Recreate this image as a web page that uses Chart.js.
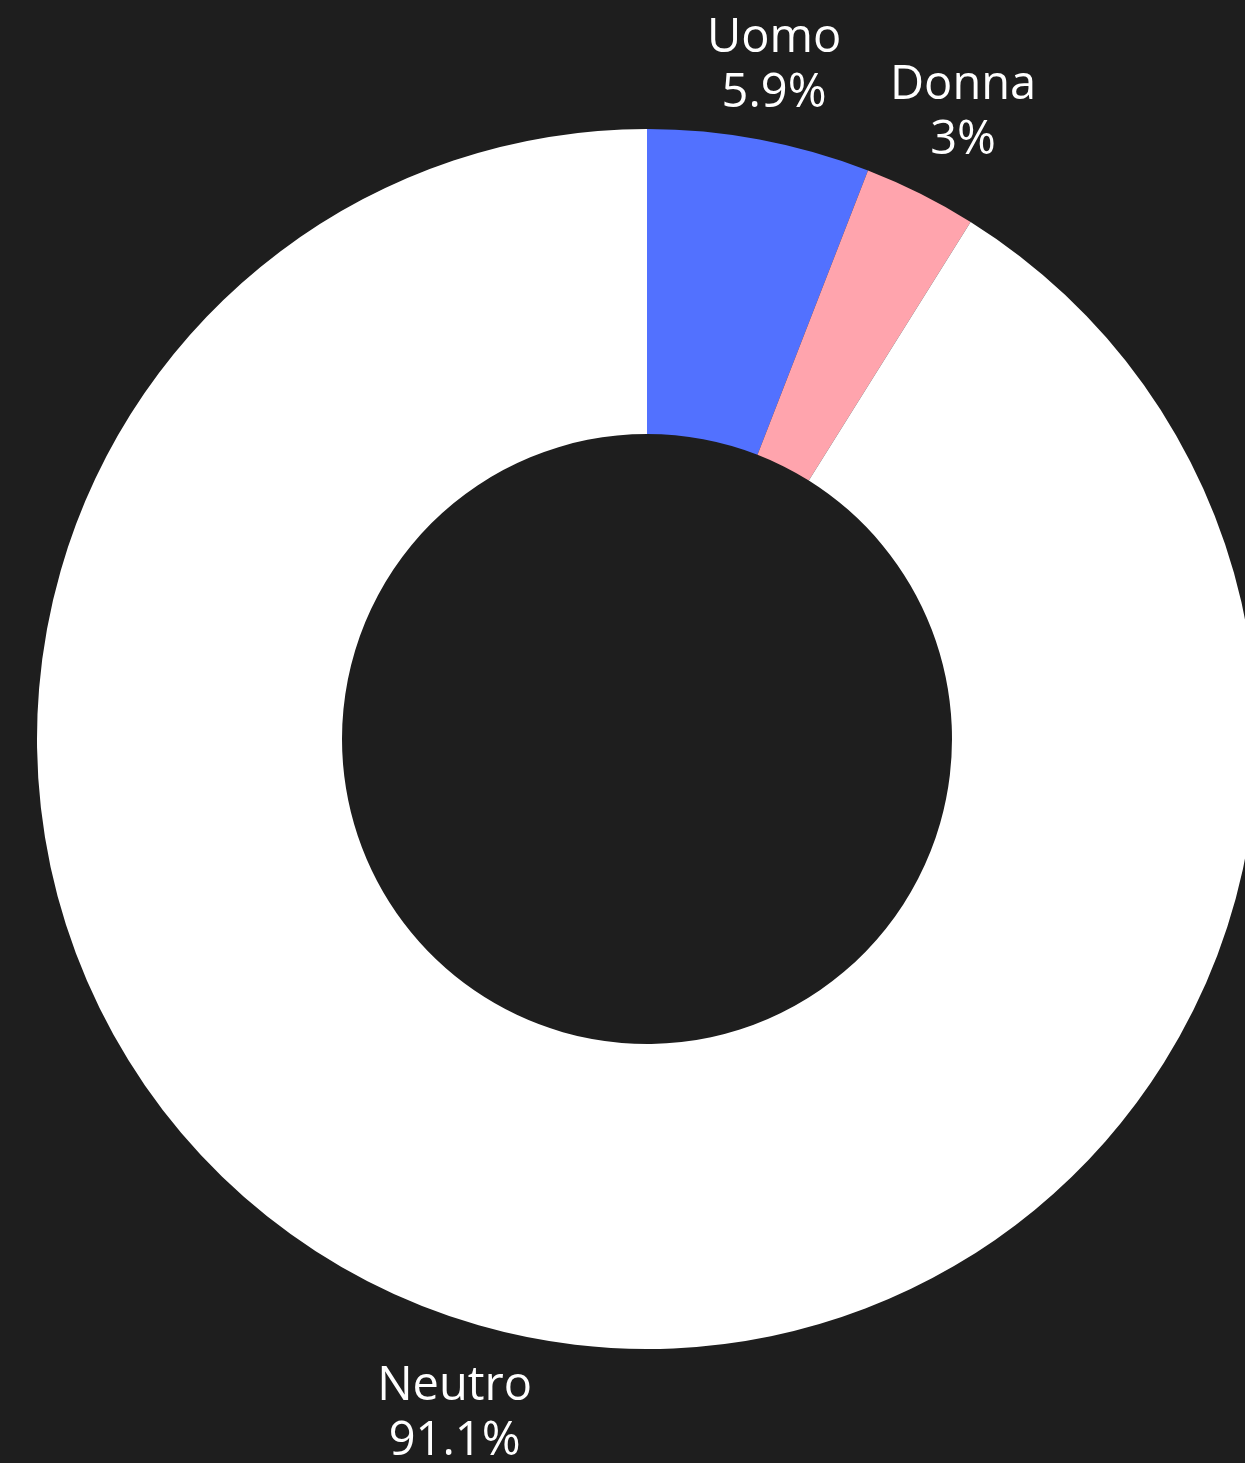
<!DOCTYPE html>
<html>
<head>
<meta charset="utf-8">
<script src="https://cdn.jsdelivr.net/npm/chart.js@4/dist/chart.umd.min.js"></script>
<style>
html,body{margin:0;padding:0;background:#1e1e1e;overflow:hidden;width:1245px;height:1463px;}
canvas{display:block;}
</style>
</head>
<body>
<canvas id="c" width="1294" height="1463"></canvas>
<script>
const categories = ["Uomo", "Donna", "Neutro"];
const values = [5.9, 3, 91.1];
const valueLabels = ["5.9%", "3%", "91.1%"];
const colors = ["#5271ff", "#ffa4ad", "#ffffff"];

const outsideLabels = {
  id: 'outsideLabels',
  afterDatasetsDraw(chart) {
    const ctx = chart.ctx;
    const meta = chart.getDatasetMeta(0);
    ctx.save();
    ctx.fillStyle = '#ffffff';
    ctx.font = '47px "Open Sans", "Noto Sans", sans-serif';
    ctx.textAlign = 'center';
    ctx.textBaseline = 'middle';
    const lineH = 55;
    meta.data.forEach((arc, i) => {
      const p = arc.getProps(['x','y','startAngle','endAngle','outerRadius'], true);
      const mid = (p.startAngle + p.endAngle) / 2;
      const dx = Math.cos(mid), dy = Math.sin(mid);
      const w = Math.max(ctx.measureText(categories[i]).width, ctx.measureText(valueLabels[i]).width);
      const h = lineH * 2;
      const ext = Math.abs(dx) * w / 2 + Math.abs(dy) * h / 2;
      const r = p.outerRadius + 13 + ext;
      const cx = p.x + dx * r;
      const cy = p.y + dy * r + 4;
      ctx.fillText(categories[i], cx, cy - 27);
      ctx.fillText(valueLabels[i], cx, cy + 28);
    });
    ctx.restore();
  }
};

new Chart(document.getElementById('c'), {
  type: 'doughnut',
  data: {
    labels: categories,
    datasets: [{
      data: values,
      backgroundColor: colors,
      borderWidth: 0,
      hoverOffset: 0
    }]
  },
  options: {
    responsive: false,
    animation: false,
    devicePixelRatio: 1,
    cutout: '50%',
    layout: { padding: { left: 37, right: 37, top: 129, bottom: 114 } },
    plugins: {
      legend: { display: false },
      tooltip: { enabled: false }
    }
  },
  plugins: [outsideLabels]
});
</script>
</body>
</html>
